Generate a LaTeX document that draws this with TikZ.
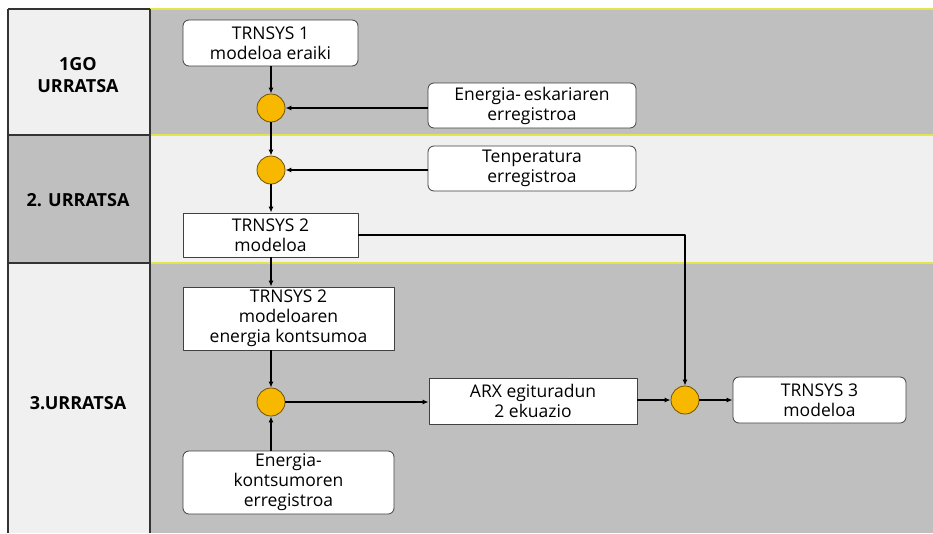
\documentclass[tikz,border=0pt]{standalone}
\usepackage{fontspec}
\setmainfont{Open Sans}
\usetikzlibrary{arrows.meta}

\definecolor{bandgray}{HTML}{BFBFBF}
\definecolor{bandlight}{HTML}{F0F0F0}
\definecolor{bandline}{HTML}{E4E44C}
\definecolor{joinfill}{HTML}{F9B800}
\definecolor{joinline}{HTML}{6E5200}

\begin{document}
\begin{tikzpicture}[x=1pt,y=-1pt,line join=round,
  flow/.style={-{Latex[length=6pt,width=5pt]},line width=1.5pt},
  block/.style={draw=black!75,fill=white,line width=.8pt,align=center,inner sep=0pt,
    font=\fontsize{17.5}{20}\selectfont},
  record/.style={block,rounded corners=6pt},
  joint/.style={circle,draw=joinline,fill=joinfill,line width=.8pt,minimum size=28pt,inner sep=0pt},
  steplabel/.style={align=center,font=\fontsize{18}{22}\selectfont\bfseries}]
  \useasboundingbox (0,0) rectangle (933,533);
  \foreach \top/\bottom/\leftfill/\rightfill in {
    9/135/bandlight/bandgray,
    135/263/bandgray/bandlight,
    263/533/bandlight/bandgray} {
    \fill[\leftfill] (8,\top) rectangle (150,\bottom);
    \fill[\rightfill] (150,\top) rectangle (933,\bottom);
    \draw[bandline,line width=1.6pt] (150,\top) -- (933,\top);
    \draw[black!80,line width=1.2pt] (8,\top) -- (150,\top);
  }
  \draw[black!80,line width=1.2pt] (8,9) -- (8,533) (150,9) -- (150,533);

  \node[steplabel] (step1) at (78,75) {1GO\\URRATSA};
  \node[steplabel] (step2) at (78,200) {2. URRATSA};
  \node[steplabel] (step3) at (78,403) {3.URRATSA};

  \node[record,minimum width=175pt,minimum height=46pt] (model1) at (270.5,43) {TRNSYS 1\\modeloa eraiki};
  \node[record,minimum width=208pt,minimum height=45pt] (demand) at (532,105.5) {Energia-\,eskariaren\\erregistroa};
  \node[record,minimum width=208pt,minimum height=45pt] (temperature) at (532,168.5) {Tenperatura\\erregistroa};
  \node[block,minimum width=175pt,minimum height=44pt] (model2) at (270.5,235) {TRNSYS 2\\modeloa};
  \node[block,minimum width=211pt,minimum height=63pt] (consumption) at (288.5,318.5) {TRNSYS 2\\modeloaren\\energia kontsumoa};
  \node[record,minimum width=211pt,minimum height=63pt] (consrecord) at (288.5,482.5) {Energia-\\kontsumoren\\erregistroa};
  \node[block,minimum width=208pt,minimum height=46pt] (arx) at (533,401) {ARX egituradun\\2 ekuazio};
  \node[record,minimum width=173pt,minimum height=46pt] (model3) at (819.5,400) {TRNSYS 3\\modeloa};

  \node[joint] (join1) at (271,108) {};
  \node[joint] (join2) at (271,170) {};
  \node[joint] (join3) at (271,402) {};
  \node[joint] (join4) at (685,400) {};

  \draw[flow] (model1.south -| join1) -- (join1);
  \draw[flow] (demand.west |- join1) -- (join1);
  \draw[flow] (join1) -- (join2);
  \draw[flow] (temperature.west |- join2) -- (join2);
  \draw[flow] (join2) -- (model2.north -| join2);
  \draw[flow] (model2.south -| join3) -- (consumption.north -| join3);
  \draw[flow] (consumption.south -| join3) -- (join3);
  \draw[flow] (consrecord.north -| join3) -- (join3);
  \draw[flow] (join3) -- (arx.west |- join3);
  \draw[flow] (arx.east |- join4) -- (join4);
  \draw[flow] (model2.east) -| (join4);
  \draw[flow] (join4) -- (model3.west |- join4);
\end{tikzpicture}
\end{document}
